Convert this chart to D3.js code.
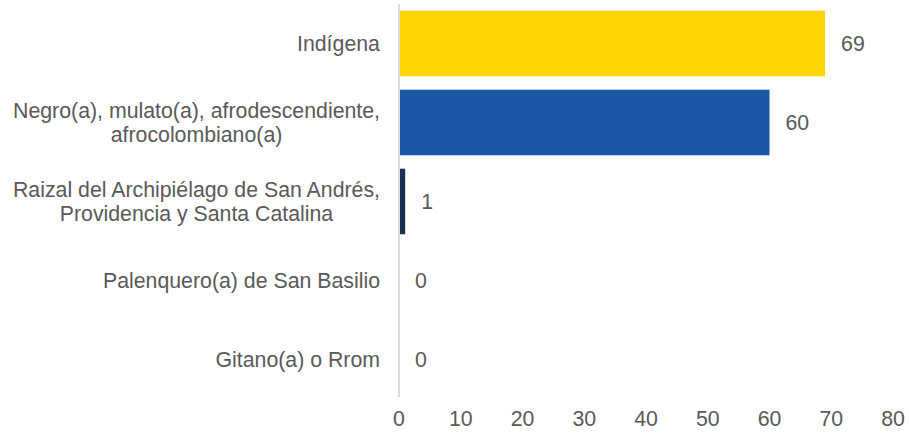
<!DOCTYPE html>
<html lang="es">
  <head>
    <meta charset="UTF-8" />
    <title>Grupos étnicos</title>
    <script src="https://d3js.org/d3.v7.min.js"></script>
    <style>
      body {
        margin: 0;
        background: #fff;
      }
      svg {
        display: block;
      }
      text {
        font-family: "Liberation Sans", Arial, sans-serif;
        font-size: 21.3px;
        fill: #595959;
      }
    </style>
  </head>
  <body>
    <div id="viz"></div>
    <script>
      // categories (top to bottom) with wrapped lines
      var categories = [
        ["Indígena"],
        ["Negro(a), mulato(a), afrodescendiente,", "afrocolombiano(a)"],
        ["Raizal del Archipiélago de San Andrés,", "Providencia y Santa Catalina"],
        ["Palenquero(a) de San Basilio"],
        ["Gitano(a) o Rrom"]
      ];
      var values = [69, 60, 1, 0, 0];
      var colors = ["#FFD400", "#1B57A7", "#1B2E52", "#1B2E52", "#1B2E52"];
      var xTicks = [0, 10, 20, 30, 40, 50, 60, 70, 80];

      var width = 909,
        height = 434;

      var svg = d3
        .select("#viz")
        .append("svg")
        .attr("width", width)
        .attr("height", height);

      var x = d3.scaleLinear().domain([0, 80]).range([399, 893]);
      var y = d3
        .scaleBand()
        .domain(d3.range(categories.length))
        .range([4, 399])
        .paddingInner(0.17)
        .paddingOuter(0.085);

      // bars
      svg
        .selectAll("rect.bar")
        .data(values)
        .enter()
        .append("rect")
        .attr("class", "bar")
        .attr("x", x(0))
        .attr("y", function (d, i) {
          return y(i);
        })
        .attr("width", function (d) {
          return x(d) - x(0);
        })
        .attr("height", y.bandwidth())
        .attr("fill", function (d, i) {
          return colors[i];
        });

      // vertical axis line
      svg
        .append("line")
        .attr("x1", x(0))
        .attr("x2", x(0))
        .attr("y1", 4)
        .attr("y2", 397)
        .attr("stroke", "#d9d9d9")
        .attr("stroke-width", 2);

      // value labels
      svg
        .selectAll("text.value")
        .data(values)
        .enter()
        .append("text")
        .attr("class", "value")
        .attr("x", function (d) {
          return x(d) + 16;
        })
        .attr("y", function (d, i) {
          return y(i) + y.bandwidth() / 2;
        })
        .attr("dy", "0.35em")
        .text(function (d) {
          return d;
        });

      // category labels: block right-aligned at 380, lines centred in block
      svg
        .selectAll("text.cat")
        .data(categories)
        .enter()
        .append("text")
        .attr("class", "cat")
        .attr("text-anchor", "middle")
        .each(function (lines, i) {
          var t = d3.select(this);
          var cy = y(i) + y.bandwidth() / 2;
          var lh = 24.5;
          lines.forEach(function (l, j) {
            t.append("tspan")
              .attr("x", 0)
              .attr("y", cy + (j - (lines.length - 1) / 2) * lh)
              .attr("dy", "0.35em")
              .text(l);
          });
          var bb = this.getBBox();
          t.selectAll("tspan").attr("x", 380 - bb.width / 2);
        });

      // x tick labels
      svg
        .selectAll("text.tick")
        .data(xTicks)
        .enter()
        .append("text")
        .attr("class", "tick")
        .attr("text-anchor", "middle")
        .attr("x", function (d) {
          return x(d);
        })
        .attr("y", 419)
        .attr("dy", "0.35em")
        .text(function (d) {
          return d;
        });
    </script>
  </body>
</html>
